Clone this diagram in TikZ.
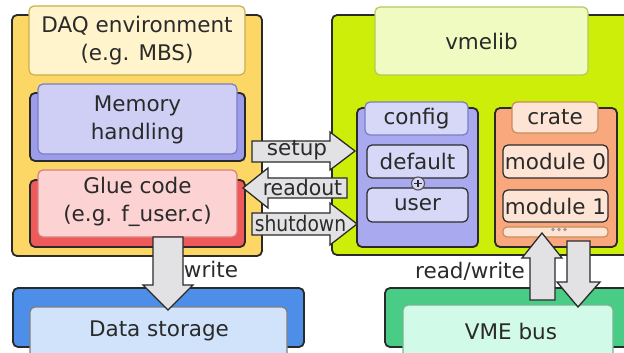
\documentclass[tikz,border=0pt]{standalone}
\usepackage{fontspec}
\setmainfont{DejaVu Sans}
\definecolor{daqY}{HTML}{FCD766}
\definecolor{daqEnv}{HTML}{FFF4CC}
\definecolor{daqEnvB}{HTML}{CDAE4C}
\definecolor{memD}{HTML}{9C9CE8}
\definecolor{memL}{HTML}{CFCFF5}
\definecolor{memB}{HTML}{7C7CC8}
\definecolor{glueD}{HTML}{EE5A5A}
\definecolor{glueL}{HTML}{FCD2D2}
\definecolor{glueB}{HTML}{D88080}
\definecolor{dsD}{HTML}{4D8EE8}
\definecolor{dsL}{HTML}{D0E3FB}
\definecolor{lime}{HTML}{CCEE08}
\definecolor{vmeL}{HTML}{F0FBC2}
\definecolor{vmeB}{HTML}{B4C860}
\definecolor{cfgD}{HTML}{A9A9F0}
\definecolor{cfgL}{HTML}{D7D7F7}
\definecolor{crD}{HTML}{F8A87C}
\definecolor{crL}{HTML}{FDE4D4}
\definecolor{crB}{HTML}{C88C5C}
\definecolor{busD}{HTML}{48CC86}
\definecolor{busL}{HTML}{D2FAE8}
\definecolor{busB}{HTML}{6FB890}
\definecolor{arrF}{HTML}{E2E2E4}
\definecolor{ink}{HTML}{2A2A2A}
\begin{document}
\begin{tikzpicture}[x=1pt,y=-1pt,
  sz/.style 2 args={minimum width=#1pt, minimum height=#2pt},
  txt/.style={font=\fontsize{21.5}{28}\selectfont, text=ink, align=center},
  base/.style={rounded corners=5pt, inner sep=0pt, txt},
  outerbox/.style={base, draw=ink, line width=1.8pt},
  innerbox/.style={base, line width=1.2pt},
  fat/.style={draw=ink, fill=arrF, line width=1.3pt, line join=miter},
  lbl/.style={txt, inner sep=0pt},
  dotmark/.style={circle, fill=gray!80, inner sep=0pt, minimum size=3.6pt}
]
\useasboundingbox (0,0) rectangle (624,353);
\clip (0,0) rectangle (624,353);

% ---------- DAQ side ----------
\node[outerbox, fill=daqY, sz={250}{241}] (daq) at (137,135.5) {};
\node[innerbox, draw=daqEnvB, fill=daqEnv, sz={216}{69}] (env) at (137,40.5) {};
\node[lbl] (envT) at (137,41) {DAQ environment\\(e.g. MBS)};
\node[outerbox, fill=memD, sz={215}{68}] (memS) at (137.5,127) {};
\node[innerbox, draw=memB, fill=memL, sz={199}{70}] (mem) at (137.5,119) {};
\node[lbl] (memT) at (137.5,120) {Memory\\handling};
\node[outerbox, fill=glueD, sz={215}{67}] (glueS) at (137.5,213.5) {};
\node[innerbox, draw=glueB, fill=glueL, sz={199}{67}] (glue) at (137.5,203.5) {};
\node[lbl] (glueT) at (137.5,202) {Glue code\\(e.g. f\_user.c)};

% ---------- Data storage ----------
\node[outerbox, fill=dsD, sz={291}{59}] (dsS) at (158.5,317.5) {};
\node[innerbox, draw=ink!60, fill=dsL, sz={257}{70}] (ds) at (158.5,342) {};
\node[lbl] (dsT) at (159,331) {Data storage};

% ---------- vmelib side ----------
\node[outerbox, fill=lime, sz={310}{240}] (vme) at (487,135) {};
\node[innerbox, draw=vmeB, fill=vmeL, sz={213}{68}] (lib) at (481.5,41) {vmelib};

\node[outerbox, fill=cfgD, sz={121}{139}] (cfg) at (417.5,177.5) {};
\node[innerbox, draw=memB, fill=cfgL, sz={103}{33}] (cfgT) at (416.5,118.5) {config};
\node[innerbox, draw=ink, fill=cfgL, sz={101}{33}] (def) at (417.5,161.5) {default};
\node[innerbox, draw=ink, fill=cfgL, sz={101}{34}] (usr) at (417.5,205) {user};
\node[circle, draw=ink!80, fill=cfgL, line width=1.1pt, minimum size=13pt, inner sep=0pt] (plus) at (418,183.5) {};
\draw[ink, line width=1.1pt] ([xshift=-3.8pt]plus.center) -- ([xshift=3.8pt]plus.center)
      ([yshift=-3.8pt]plus.center) -- ([yshift=3.8pt]plus.center);

\node[outerbox, fill=crD, sz={122}{139}] (crate) at (556,177.5) {};
\node[innerbox, draw=crB, fill=crL, sz={86}{31}] (crT) at (555,117.5) {crate};
\node[innerbox, draw=ink, fill=crL, sz={105}{33}] (m0) at (555.5,161.5) {module 0};
\node[innerbox, draw=ink, fill=crL, sz={105}{32}] (m1) at (555.5,206) {module 1};
\node[innerbox, draw=crB, fill=crL, sz={105}{10}, rounded corners=4pt] (dots) at (555.5,232) {};
\node[dotmark] (d1) at (553,229.5) {};
\node[dotmark] (d2) at (559,229.5) {};
\node[dotmark] (d3) at (565,229.5) {};

% ---------- VME bus ----------
\node[outerbox, fill=busD, sz={255}{59}] (busS) at (512.5,317.5) {};
\node[innerbox, draw=busB, fill=busL, sz={210}{70}] (bus) at (508,340) {};
\node[lbl] (busT) at (511,331) {VME bus};

% ---------- fat arrows ----------
% write
\draw[fat] (153,237) -- (183,237) -- (183,285) -- (193,285) -- (168,310) -- (143,285) -- (153,285) -- cycle;
\node[lbl] (wr) at (211,269) {write};

% setup
\draw[fat] (252,141) -- (330,141) -- (330,132) -- (355,151) -- (330,170) -- (330,162) -- (252,162) -- cycle;
\node[lbl] (setupT) at (297,150) {setup};
% readout
\draw[fat] (347,178) -- (268,178) -- (268,168) -- (243,188) -- (268,208) -- (268,198) -- (347,198) -- cycle;
\node[lbl, xscale=0.95] (readT) at (302.5,187) {readout};
% shutdown
\draw[fat] (252,213) -- (330,213) -- (330,203) -- (357,224) -- (330,245) -- (330,235) -- (252,235) -- cycle;
\node[lbl, xscale=0.87] (shutT) at (300.5,223) {shutdown};

% read/write
\draw[fat] (530,300) -- (530,258) -- (522,258) -- (542,233) -- (562,258) -- (555,258) -- (555,300) -- cycle;
\draw[fat] (567,241) -- (590,241) -- (590,282) -- (600,282) -- (578,307) -- (557,282) -- (567,282) -- cycle;
\node[lbl] (rwT) at (470,271) {read/write};
\end{tikzpicture}
\end{document}
